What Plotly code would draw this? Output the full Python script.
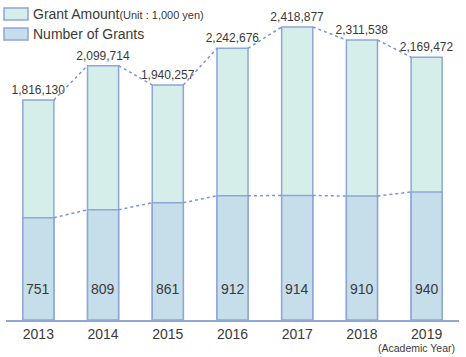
import plotly.graph_objects as go

years = ["2013", "2014", "2015", "2016", "2017", "2018", "2019"]
grant_amount = [1816130, 2099714, 1940257, 2242676, 2418877, 2311538, 2169472]
num_grants = [751, 809, 861, 912, 914, 910, 940]

W, H = 466, 357
ML, MR, MT, MB = 6, 7, 10, 37
PW, PH = W - ML - MR, H - MT - MB

def px(x):
    return (x - ML) / PW

def py(y):
    return (H - MB - y) / PH

BW = 0.48
xs = list(range(len(years)))
fill_amt = "#d6eeea"
fill_num = "#c6ddea"
edge = "#8ea6d8"
dot_col = "#7896d8"
txt = "#3a3a3a"

def connectors(vals):
    cx, cy = [], []
    for i in range(len(vals) - 1):
        cx += [xs[i] + BW / 2, xs[i + 1] - BW / 2, None]
        cy += [vals[i], vals[i + 1], None]
    return cx, cy

fig = go.Figure()
fig.add_trace(go.Bar(
    x=xs, y=grant_amount, width=BW, yaxis="y",
    marker=dict(color=fill_amt, line=dict(color=edge, width=1.5)),
    text=[f"{v:,}" for v in grant_amount], textposition="outside", constraintext="none",
    textfont=dict(family="Liberation Sans Narrow, Arial Narrow, Liberation Sans", size=12, color=txt),
    cliponaxis=False, showlegend=False, hoverinfo="skip",
))
fig.add_trace(go.Bar(
    x=xs, y=num_grants, width=BW, yaxis="y2",
    marker=dict(color=fill_num, line=dict(color=edge, width=1.5)),
    showlegend=False, hoverinfo="skip",
))
ax, ay = connectors(grant_amount)
fig.add_trace(go.Scatter(x=ax, y=ay, mode="lines", yaxis="y",
                         line=dict(color=dot_col, width=1.5, dash="dot"),
                         showlegend=False, hoverinfo="skip"))
nx, ny = connectors(num_grants)
fig.add_trace(go.Scatter(x=nx, y=ny, mode="lines", yaxis="y2",
                         line=dict(color=dot_col, width=1.5, dash="dot"),
                         showlegend=False, hoverinfo="skip"))

annotations = []
for x, n in zip(xs, num_grants):
    annotations.append(dict(x=x, y=0, xref="x", yref="y2", text=str(n), showarrow=False,
                            yshift=31, yanchor="middle",
                            font=dict(family="Liberation Sans, Arial", size=14, color=txt)))
annotations.append(dict(x=px(416), y=py(348), xref="paper", yref="paper", text="(Academic Year)",
                        showarrow=False, xanchor="center", yanchor="middle",
                        font=dict(family="Liberation Sans, Arial", size=10.5, color=txt)))
annotations.append(dict(x=px(31), y=py(14), xref="paper", yref="paper",
                        text="Grant Amount<span style='font-size:11px'>(Unit : 1,000 yen)</span>",
                        showarrow=False, xanchor="left", yanchor="middle",
                        font=dict(family="Liberation Sans, Arial", size=14, color=txt)))
annotations.append(dict(x=px(31), y=py(34), xref="paper", yref="paper", text="Number of Grants",
                        showarrow=False, xanchor="left", yanchor="middle",
                        font=dict(family="Liberation Sans, Arial", size=14, color=txt)))

shapes = [
    dict(type="rect", xref="paper", yref="paper", x0=px(4), x1=px(28), y0=py(20), y1=py(8),
         fillcolor=fill_amt, line=dict(color=edge, width=1.5)),
    dict(type="rect", xref="paper", yref="paper", x0=px(4), x1=px(28), y0=py(40), y1=py(28),
         fillcolor=fill_num, line=dict(color=edge, width=1.5)),
]

fig.update_layout(
    width=W, height=H,
    margin=dict(l=ML, r=MR, t=MT, b=MB),
    paper_bgcolor="white", plot_bgcolor="white",
    barmode="overlay",
    xaxis=dict(range=[-0.5, len(years) - 0.5], tickvals=xs, ticktext=years,
               showline=True, linecolor=edge, linewidth=1.5, showgrid=False, zeroline=False,
               ticks="", tickfont=dict(family="Liberation Sans, Arial", size=14, color=txt)),
    yaxis=dict(range=[0, 2559000], visible=False, showgrid=False),
    yaxis2=dict(range=[0, 2276], overlaying="y", visible=False, showgrid=False),
    annotations=annotations, shapes=shapes,
)

fig.write_html("out.html", config={"displayModeBar": False},
               post_script="document.body.style.margin='0';document.body.style.overflow='hidden';")
